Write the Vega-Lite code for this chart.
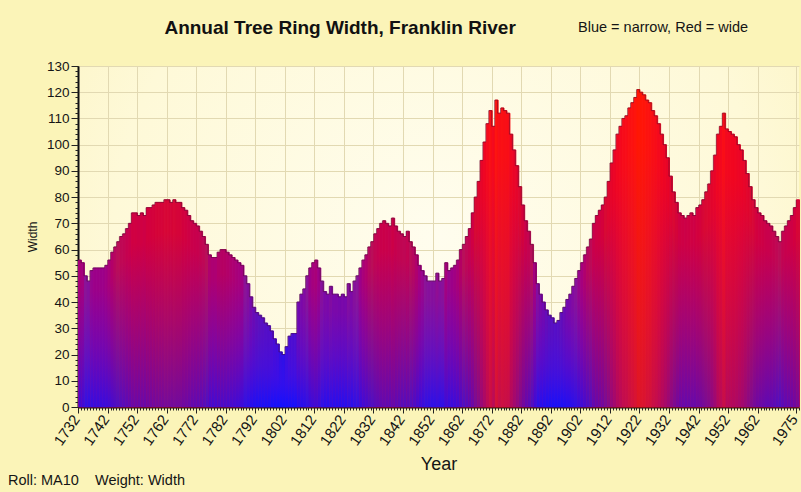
{
  "$schema": "https://vega.github.io/schema/vega-lite/v6.json",
  "width": 721,
  "height": 341,
  "autosize": {"type": "none"},
  "padding": {"left": 78, "top": 66, "right": 2, "bottom": 85},
  "background": "#fbf4b8",
  "config": {
    "view": {
      "stroke": null,
      "fill": {"gradient": "radial", "x1": 0.5, "y1": 0.5, "r1": 0, "x2": 0.5, "y2": 0.5, "r2": 0.75,
        "stops": [{"offset": 0, "color": "#fffdee"}, {"offset": 0.6, "color": "#fef9d8"}, {"offset": 1, "color": "#fbf2b8"}]}
    },
    "font": "Liberation Sans"
  },
  "data": {
    "values": [
      {"year": 1732, "ring": 56}, {"year": 1733, "ring": 55}, {"year": 1734, "ring": 50}, {"year": 1735, "ring": 48},
      {"year": 1736, "ring": 52}, {"year": 1737, "ring": 53}, {"year": 1738, "ring": 53}, {"year": 1739, "ring": 53},
      {"year": 1740, "ring": 53}, {"year": 1741, "ring": 54}, {"year": 1742, "ring": 56}, {"year": 1743, "ring": 59},
      {"year": 1744, "ring": 61}, {"year": 1745, "ring": 63}, {"year": 1746, "ring": 65}, {"year": 1747, "ring": 66},
      {"year": 1748, "ring": 68}, {"year": 1749, "ring": 70}, {"year": 1750, "ring": 74}, {"year": 1751, "ring": 74},
      {"year": 1752, "ring": 73}, {"year": 1753, "ring": 74}, {"year": 1754, "ring": 73}, {"year": 1755, "ring": 76},
      {"year": 1756, "ring": 76}, {"year": 1757, "ring": 77}, {"year": 1758, "ring": 78}, {"year": 1759, "ring": 78},
      {"year": 1760, "ring": 78}, {"year": 1761, "ring": 79}, {"year": 1762, "ring": 79}, {"year": 1763, "ring": 78},
      {"year": 1764, "ring": 79}, {"year": 1765, "ring": 78}, {"year": 1766, "ring": 78}, {"year": 1767, "ring": 76},
      {"year": 1768, "ring": 75}, {"year": 1769, "ring": 73}, {"year": 1770, "ring": 71}, {"year": 1771, "ring": 70},
      {"year": 1772, "ring": 69}, {"year": 1773, "ring": 67}, {"year": 1774, "ring": 65}, {"year": 1775, "ring": 62},
      {"year": 1776, "ring": 58}, {"year": 1777, "ring": 57}, {"year": 1778, "ring": 57}, {"year": 1779, "ring": 59},
      {"year": 1780, "ring": 60}, {"year": 1781, "ring": 60}, {"year": 1782, "ring": 59}, {"year": 1783, "ring": 58},
      {"year": 1784, "ring": 57}, {"year": 1785, "ring": 56}, {"year": 1786, "ring": 55}, {"year": 1787, "ring": 54},
      {"year": 1788, "ring": 50}, {"year": 1789, "ring": 47}, {"year": 1790, "ring": 42}, {"year": 1791, "ring": 38},
      {"year": 1792, "ring": 36}, {"year": 1793, "ring": 35}, {"year": 1794, "ring": 34}, {"year": 1795, "ring": 32},
      {"year": 1796, "ring": 31}, {"year": 1797, "ring": 29}, {"year": 1798, "ring": 26}, {"year": 1799, "ring": 24},
      {"year": 1800, "ring": 21}, {"year": 1801, "ring": 20}, {"year": 1802, "ring": 23}, {"year": 1803, "ring": 27},
      {"year": 1804, "ring": 28}, {"year": 1805, "ring": 28}, {"year": 1806, "ring": 40}, {"year": 1807, "ring": 43},
      {"year": 1808, "ring": 45}, {"year": 1809, "ring": 50}, {"year": 1810, "ring": 53}, {"year": 1811, "ring": 55},
      {"year": 1812, "ring": 56}, {"year": 1813, "ring": 53}, {"year": 1814, "ring": 48}, {"year": 1815, "ring": 44},
      {"year": 1816, "ring": 43}, {"year": 1817, "ring": 46}, {"year": 1818, "ring": 43}, {"year": 1819, "ring": 43},
      {"year": 1820, "ring": 42}, {"year": 1821, "ring": 43}, {"year": 1822, "ring": 42}, {"year": 1823, "ring": 47},
      {"year": 1824, "ring": 44}, {"year": 1825, "ring": 48}, {"year": 1826, "ring": 50}, {"year": 1827, "ring": 53},
      {"year": 1828, "ring": 56}, {"year": 1829, "ring": 58}, {"year": 1830, "ring": 61}, {"year": 1831, "ring": 63},
      {"year": 1832, "ring": 66}, {"year": 1833, "ring": 68}, {"year": 1834, "ring": 70}, {"year": 1835, "ring": 71},
      {"year": 1836, "ring": 70}, {"year": 1837, "ring": 69}, {"year": 1838, "ring": 72}, {"year": 1839, "ring": 69},
      {"year": 1840, "ring": 67}, {"year": 1841, "ring": 66}, {"year": 1842, "ring": 65}, {"year": 1843, "ring": 67},
      {"year": 1844, "ring": 63}, {"year": 1845, "ring": 61}, {"year": 1846, "ring": 58}, {"year": 1847, "ring": 54},
      {"year": 1848, "ring": 52}, {"year": 1849, "ring": 50}, {"year": 1850, "ring": 48}, {"year": 1851, "ring": 48},
      {"year": 1852, "ring": 48}, {"year": 1853, "ring": 51}, {"year": 1854, "ring": 48}, {"year": 1855, "ring": 49},
      {"year": 1856, "ring": 55}, {"year": 1857, "ring": 52}, {"year": 1858, "ring": 53}, {"year": 1859, "ring": 54},
      {"year": 1860, "ring": 56}, {"year": 1861, "ring": 60}, {"year": 1862, "ring": 62}, {"year": 1863, "ring": 65},
      {"year": 1864, "ring": 68}, {"year": 1865, "ring": 74}, {"year": 1866, "ring": 80}, {"year": 1867, "ring": 86},
      {"year": 1868, "ring": 94}, {"year": 1869, "ring": 101}, {"year": 1870, "ring": 108}, {"year": 1871, "ring": 113},
      {"year": 1872, "ring": 107}, {"year": 1873, "ring": 117}, {"year": 1874, "ring": 112}, {"year": 1875, "ring": 114},
      {"year": 1876, "ring": 113}, {"year": 1877, "ring": 112}, {"year": 1878, "ring": 104}, {"year": 1879, "ring": 98},
      {"year": 1880, "ring": 92}, {"year": 1881, "ring": 84}, {"year": 1882, "ring": 77}, {"year": 1883, "ring": 71},
      {"year": 1884, "ring": 67}, {"year": 1885, "ring": 62}, {"year": 1886, "ring": 55}, {"year": 1887, "ring": 47},
      {"year": 1888, "ring": 43}, {"year": 1889, "ring": 40}, {"year": 1890, "ring": 37}, {"year": 1891, "ring": 35},
      {"year": 1892, "ring": 34}, {"year": 1893, "ring": 32}, {"year": 1894, "ring": 33}, {"year": 1895, "ring": 36},
      {"year": 1896, "ring": 38}, {"year": 1897, "ring": 41}, {"year": 1898, "ring": 43}, {"year": 1899, "ring": 46},
      {"year": 1900, "ring": 49}, {"year": 1901, "ring": 52}, {"year": 1902, "ring": 55}, {"year": 1903, "ring": 58},
      {"year": 1904, "ring": 61}, {"year": 1905, "ring": 64}, {"year": 1906, "ring": 70}, {"year": 1907, "ring": 73},
      {"year": 1908, "ring": 75}, {"year": 1909, "ring": 77}, {"year": 1910, "ring": 80}, {"year": 1911, "ring": 86},
      {"year": 1912, "ring": 93}, {"year": 1913, "ring": 98}, {"year": 1914, "ring": 104}, {"year": 1915, "ring": 107},
      {"year": 1916, "ring": 110}, {"year": 1917, "ring": 111}, {"year": 1918, "ring": 114}, {"year": 1919, "ring": 116},
      {"year": 1920, "ring": 118}, {"year": 1921, "ring": 121}, {"year": 1922, "ring": 120}, {"year": 1923, "ring": 119},
      {"year": 1924, "ring": 117}, {"year": 1925, "ring": 116}, {"year": 1926, "ring": 113}, {"year": 1927, "ring": 111},
      {"year": 1928, "ring": 108}, {"year": 1929, "ring": 104}, {"year": 1930, "ring": 100}, {"year": 1931, "ring": 95},
      {"year": 1932, "ring": 88}, {"year": 1933, "ring": 82}, {"year": 1934, "ring": 78}, {"year": 1935, "ring": 74},
      {"year": 1936, "ring": 73}, {"year": 1937, "ring": 72}, {"year": 1938, "ring": 73}, {"year": 1939, "ring": 74},
      {"year": 1940, "ring": 73}, {"year": 1941, "ring": 76}, {"year": 1942, "ring": 77}, {"year": 1943, "ring": 79},
      {"year": 1944, "ring": 82}, {"year": 1945, "ring": 85}, {"year": 1946, "ring": 90}, {"year": 1947, "ring": 96},
      {"year": 1948, "ring": 104}, {"year": 1949, "ring": 107}, {"year": 1950, "ring": 112}, {"year": 1951, "ring": 106},
      {"year": 1952, "ring": 105}, {"year": 1953, "ring": 104}, {"year": 1954, "ring": 103}, {"year": 1955, "ring": 100},
      {"year": 1956, "ring": 98}, {"year": 1957, "ring": 94}, {"year": 1958, "ring": 89}, {"year": 1959, "ring": 84},
      {"year": 1960, "ring": 79}, {"year": 1961, "ring": 76}, {"year": 1962, "ring": 74}, {"year": 1963, "ring": 73},
      {"year": 1964, "ring": 71}, {"year": 1965, "ring": 70}, {"year": 1966, "ring": 69}, {"year": 1967, "ring": 67},
      {"year": 1968, "ring": 65}, {"year": 1969, "ring": 63}, {"year": 1970, "ring": 67}, {"year": 1971, "ring": 69},
      {"year": 1972, "ring": 71}, {"year": 1973, "ring": 73}, {"year": 1974, "ring": 76}, {"year": 1975, "ring": 79}
    ]
  },
  "layer": [
    {
      "mark": {"type": "bar", "binSpacing": 0, "strokeWidth": 1},
      "encoding": {
        "x": {
          "field": "year", "type": "quantitative", "bin": {"binned": true, "step": 1},
          "scale": {"domain": [1732, 1976], "nice": false, "zero": false},
          "axis": {
            "title": "Year",
            "values": [1732, 1742, 1752, 1762, 1772, 1782, 1792, 1802, 1812, 1822, 1832, 1842, 1852, 1862, 1872, 1882, 1892, 1902, 1912, 1922, 1932, 1942, 1952, 1962, 1975],
            "format": "d",
            "labelAngle": -55,
            "labelFontSize": 15,
            "labelColor": "#151515",
            "labelOverlap": false,
            "labelFlush": false,
            "labelPadding": 3,
            "labelOffset": -2,
            "tickSize": 6,
            "tickColor": "#222222",
            "domainColor": "#111111",
            "domainWidth": 2,
            "grid": true,
            "gridColor": "#e2d9b2",
            "gridWidth": 1,
            "titleFontSize": 18,
            "titleFontWeight": "normal",
            "titleColor": "#151515",
            "titlePadding": 8
          }
        },
        "y": {
          "field": "ring", "type": "quantitative",
          "scale": {"domain": [0, 130], "nice": false},
          "axis": {
            "title": "Width",
            "values": [0, 10, 20, 30, 40, 50, 60, 70, 80, 90, 100, 110, 120, 130],
            "labelFontSize": 13.5,
            "labelColor": "#151515",
            "labelPadding": 2,
            "tickSize": 7,
            "tickColor": "#222222",
            "domainColor": "#111111",
            "domainWidth": 2,
            "grid": true,
            "gridColor": "#e2d9b2",
            "gridWidth": 1,
            "titleFontSize": 12,
            "titleFontWeight": "normal",
            "titleColor": "#151515",
            "titlePadding": 7
          }
        },
        "color": {
          "field": "ring", "type": "quantitative",
          "scale": {"domain": [20, 35, 50, 62, 80, 105], "range": ["#3010e8", "#5a10c0", "#8a1498", "#b8105a", "#d80a34", "#f20820"]},
          "legend": null
        },
        "stroke": {
          "field": "ring", "type": "quantitative",
          "scale": {"domain": [20, 35, 50, 62, 80, 105], "range": ["#3010e8", "#5a10c0", "#8a1498", "#b8105a", "#d80a34", "#f20820"]},
          "legend": null
        }
      }
    },
    {
      "mark": {
        "type": "bar", "binSpacing": 0, "strokeWidth": 0,
        "color": {"gradient": "linear", "x1": 0, "y1": 1, "x2": 0, "y2": 0,
          "stops": [{"offset": 0, "color": "#1010ff"}, {"offset": 0.45, "color": "rgba(50,16,240,0.5)"}, {"offset": 0.85, "color": "rgba(60,16,240,0)"}]}
      },
      "encoding": {
        "x": {
          "field": "year", "type": "quantitative", "bin": {"binned": true, "step": 1},
          "axis": {"orient": "bottom", "title": null, "labels": false, "grid": false, "domain": false, "tickCount": 244, "tickSize": 3, "tickColor": "#222222"}
        },
        "y": {
          "field": "ring", "type": "quantitative",
          "axis": {"orient": "left", "title": null, "labels": false, "grid": false, "domain": false, "tickCount": 65, "tickSize": 3, "tickColor": "#222222"}
        },
        "opacity": {
          "field": "ring", "type": "quantitative",
          "scale": {"domain": [20, 120], "range": [1, 0.15]},
          "legend": null
        }
      }
    },
    {
      "mark": {"type": "line", "interpolate": "step-after", "color": "#4a0a30", "strokeWidth": 1, "opacity": 0.45},
      "encoding": {
        "x": {"field": "year", "type": "quantitative", "axis": null},
        "y": {"field": "ring", "type": "quantitative", "axis": null}
      }
    },
    {
      "data": {"values": [{"note": "Annual Tree Ring Width, Franklin River"}]},
      "mark": {"type": "text", "fontSize": 19, "fontWeight": "bold", "align": "center", "baseline": "middle", "color": "#111111"},
      "encoding": {
        "x": {"datum": 1820.7, "type": "quantitative", "axis": null},
        "y": {"datum": 144.5, "type": "quantitative", "axis": null},
        "text": {"field": "note"}
      }
    },
    {
      "data": {"values": [{"note": "Blue = narrow, Red = wide"}]},
      "mark": {"type": "text", "fontSize": 14.5, "align": "center", "baseline": "middle", "color": "#151515"},
      "encoding": {
        "x": {"datum": 1930, "type": "quantitative", "axis": null},
        "y": {"datum": 144.5, "type": "quantitative", "axis": null},
        "text": {"field": "note"}
      }
    },
    {
      "data": {"values": [{"note": "Roll: MA10\u00a0\u00a0\u00a0\u00a0Weight: Width"}]},
      "mark": {"type": "text", "fontSize": 14.5, "align": "left", "baseline": "middle", "color": "#151515"},
      "encoding": {
        "x": {"datum": 1708.3, "type": "quantitative", "axis": null},
        "y": {"datum": -28.2, "type": "quantitative", "axis": null},
        "text": {"field": "note"}
      }
    }
  ],
  "resolve": {"axis": {"x": "independent", "y": "independent"}}
}
